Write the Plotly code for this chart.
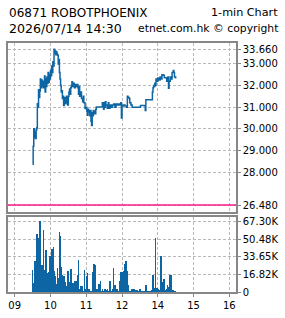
import plotly.graph_objects as go

W, H = 285, 318

title_code = "06871 ROBOTPHOENIX"
title_kind = "1-min Chart"
title_time = "2026/07/14 14:30"
title_src = "etnet.com.hk © copyright"

prev_close = 26.48

price_times = [
    "09:30", "09:31", "09:32", "09:33", "09:34", "09:35", "09:36", "09:37", "09:38", "09:39",
    "09:40", "09:41", "09:42", "09:43", "09:44", "09:45", "09:46", "09:47", "09:48", "09:49",
    "09:50", "09:51", "09:52", "09:53", "09:54", "09:55", "09:56", "09:57", "09:58", "09:59",
    "10:00", "10:01", "10:02", "10:03", "10:04", "10:05", "10:06", "10:07", "10:08", "10:09",
    "10:10", "10:11", "10:12", "10:13", "10:14", "10:15", "10:16", "10:17", "10:18", "10:19",
    "10:20", "10:21", "10:22", "10:23", "10:24", "10:25", "10:26", "10:27", "10:28", "10:29",
    "10:30", "10:31", "10:32", "10:33", "10:34", "10:35", "10:36", "10:37", "10:38", "10:40",
    "10:42", "10:44", "10:45", "10:46", "10:47", "10:48", "10:49", "10:50", "10:52", "10:54",
    "10:55", "10:56", "10:58", "11:00", "11:01", "11:02", "11:03", "11:04", "11:05", "11:06",
    "11:07", "11:08", "11:09", "11:10", "11:11", "11:12", "11:13", "11:14", "11:15", "11:16",
    "11:17", "11:26", "11:27", "11:28", "11:29", "11:30", "11:31", "11:32", "11:33", "11:35",
    "11:37", "11:38", "11:40", "11:42", "11:44", "11:46", "11:48", "11:50", "11:52", "11:54",
    "11:56", "11:58", "11:59", "12:00",
    "13:02", "13:05", "13:08", "13:09", "13:10", "13:12", "13:13", "13:15", "13:17", "13:30",
    "13:31", "13:38", "13:39", "13:40", "13:50", "13:51", "13:52", "13:53", "13:54", "13:55",
    "13:56", "13:57", "13:58", "14:00", "14:02", "14:04", "14:06", "14:07", "14:09", "14:11",
    "14:13", "14:15", "14:17", "14:18", "14:19", "14:21", "14:23", "14:24", "14:26", "14:27",
    "14:28", "14:30",
]
price_values = [
    28.36, 29.20, 30.00, 29.60, 29.85, 29.55, 29.95, 30.05, 31.16, 31.00,
    31.80, 31.45, 31.75, 32.30, 31.90, 32.25, 31.95, 32.20, 31.90, 32.10,
    32.44, 31.70, 32.30, 31.95, 32.40, 32.10, 32.60, 32.15, 32.50, 32.30,
    32.70, 32.45, 32.90, 32.60, 33.10, 32.90, 33.68, 33.50, 33.60, 33.42,
    33.55, 33.45, 33.40, 33.00, 33.20, 32.60, 32.30, 32.00, 31.70, 31.76,
    31.40, 31.50, 31.08, 31.30, 31.45, 31.16, 31.40, 31.50, 31.20, 31.10,
    31.50, 31.70, 31.84, 31.60, 31.90, 32.00, 32.17, 31.95, 32.10, 31.90,
    32.05, 31.95, 32.05, 31.90, 31.60, 31.95, 31.50, 31.70, 31.40, 31.25,
    31.50, 31.20, 30.94, 31.00, 30.80, 30.63, 30.90, 30.75, 30.85, 30.60,
    30.85, 30.35, 30.15, 30.75, 30.60, 30.85, 30.70, 30.80, 30.70, 30.90,
    31.01, 31.01, 31.20, 31.20, 30.90, 31.20, 31.00, 31.25, 31.10, 30.95,
    31.20, 30.95, 31.10, 31.00, 31.10, 31.15, 31.00, 31.15, 31.10, 31.15,
    31.10, 31.20, 30.50, 31.05,
    31.10, 31.05, 31.00, 31.50, 31.45, 31.40, 31.20, 31.10, 31.00, 31.00,
    31.08, 31.08, 30.85, 31.34, 31.34, 31.70, 31.90, 32.00, 31.95, 32.10,
    32.00, 32.30, 32.20, 32.35, 32.25, 32.40, 32.30, 32.50, 32.48, 32.36,
    32.36, 32.20, 32.40, 31.87, 32.20, 32.40, 32.30, 32.60, 32.70, 32.60,
    32.40, 32.32,
]

# 1-minute volumes (thousand shares)
vol_am_start = "09:30"
vol_am = [
    21, 9, 9, 12, 30, 26, 20, 55, 27, 24,
    52, 22, 68, 24, 23, 18, 26, 22, 59, 15,
    12, 21, 18, 40, 16, 16, 18, 14, 19, 34,
    20, 19, 22, 41, 35, 43, 20, 18, 15, 8,
    5.6, 4, 23, 10, 13, 57, 54, 12, 24, 10,
    16.5, 12, 4, 15, 3, 10, 2, 5.6, 2, 20.5,
    3, 10, 2, 1.5, 22, 2, 7, 1, 9, 1.5,
    2, 11, 1, 11, 1, 2, 16.5, 31, 2, 3,
    1, 5.6, 1, 5.6, 5.6, 1, 1, 21, 2.5, 1,
    1, 15, 18, 1, 1, 2.5, 1, 1.2, 1, 1,
    1, 19.6, 1, 26.5, 1, 26, 2.5, 1, 2.5, 1,
    1, 8, 1, 1, 11, 1, 1, 2.5, 0.5, 0.5,
    1, 3, 0.5, 1, 1.5, 0.5, 2.5, 0.5, 0.5, 1,
    11, 1, 0.5, 1, 2.5, 1, 23, 1, 7, 1,
    0.5, 1, 3, 1, 0.5, 1, 0.5, 10.6, 19.6, 1,
]
vol_pm_start = "13:00"
vol_pm = [
    19.6, 10, 11, 20, 27, 20, 18, 30, 20, 20,
    7, 7, 0.5, 0.5, 0.5, 1, 1, 2.5, 1, 0.5,
    2.5, 2.5, 0.5, 2, 0.5, 2, 0.5, 0.5, 0.5, 0.5,
    2.5, 1, 1, 0.5, 0.5, 0.5, 0.5, 0.5, 0.5, 1,
    7, 1, 0.5, 1, 0.5, 0.5, 0.5, 0.5, 0.5, 1,
    2, 12, 16.5, 3, 3, 4, 52, 4, 3, 4,
    2.5, 1.5, 2, 2, 2, 34, 2, 2, 2, 10,
    12, 3, 2, 2, 1, 3, 7, 1, 5, 1,
    16.5, 16.5, 16.5, 3, 0.5, 0.5, 2, 0.5, 0.5, 0.5,
]

x_tick_vals = [0, 1, 2, 3, 4, 5, 6]
x_tick_text = ["09", "10", "11", "12", "14", "15", "16"]
price_ticks = [26.48, 28, 29, 30, 31, 32, 33, 33.66]
vol_ticks = [0, 16.82, 33.65, 50.48, 67.30]
vol_tick_text = ["0", "16.82K", "33.65K", "50.48K", "67.30K"]


def t_axis(hhmm):
    h, m = map(int, hhmm.split(":"))
    v = h + m / 60
    return v - 9 if v <= 12 else v - 10


px = [t_axis(t) for t in price_times]
vx = [t_axis(vol_am_start) + i / 60 for i in range(len(vol_am))] + \
     [t_axis(vol_pm_start) + j / 60 for j in range(len(vol_pm))]
vy = vol_am + vol_pm

BLUE = "#0e65a3"
FRAME = "#878787"
GRID = "#b9b9b9"
FONT = "DejaVu Sans"

fig = go.Figure()
fig.add_trace(go.Scatter(x=px, y=price_values, mode="lines", line=dict(color=BLUE, width=1.5, shape="hv"),
                         xaxis="x", yaxis="y", hoverinfo="skip"))
fig.add_trace(go.Bar(x=vx, y=vy, width=1 / 60, marker=dict(color=BLUE, line=dict(width=0)),
                     xaxis="x2", yaxis="y2", hoverinfo="skip"))

xr = [-0.187, 6.187]
axis_common = dict(showline=True, mirror=True, linecolor=FRAME, linewidth=1.5,
                   showgrid=True, gridcolor=GRID, gridwidth=1, griddash="3px,2px", zeroline=False)

fig.update_layout(
    width=W, height=H, margin=dict(l=0, r=0, t=0, b=0),
    paper_bgcolor="white", plot_bgcolor="white", showlegend=False, bargap=0,
    font=dict(family=FONT, size=10, color="black"),
    xaxis=dict(domain=[8 / W, 236 / W], range=xr, anchor="y", tickvals=x_tick_vals,
               showticklabels=False, ticks="", **axis_common),
    yaxis=dict(domain=[1 - 215.7 / H, 1 - 42.7 / H], range=[26.16, 33.976], side="right", anchor="x",
               tickvals=price_ticks, ticktext=[f"{v:.3f}" for v in price_ticks],
               ticks="outside", ticklen=3, tickcolor=FRAME, **axis_common),
    xaxis2=dict(domain=[8 / W, 236 / W], range=xr, anchor="y2", matches="x", tickvals=x_tick_vals,
                ticktext=x_tick_text, ticks="outside", ticklen=3, tickcolor=FRAME, **axis_common),
    yaxis2=dict(domain=[1 - 297.7 / H, 1 - 221 / H], range=[0, 71.7], side="right", anchor="x2",
                tickvals=vol_ticks, ticktext=vol_tick_text,
                ticks="outside", ticklen=3, tickcolor=FRAME, **axis_common),
)

fig.add_shape(type="line", xref="x domain", yref="y", x0=0, x1=1, y0=prev_close, y1=prev_close,
              line=dict(color="#ff1a8c", width=1.5))


def ann(text, xpx, ypx, anchor, size):
    fig.add_annotation(text=text, xref="paper", yref="paper", x=xpx / W, y=1 - ypx / H,
                       xanchor=anchor, yanchor="middle", showarrow=False, borderpad=0,
                       font=dict(family=FONT, size=size, color="black"))


ann(title_code, 8, 12, "left", 12)
ann(title_kind, 279, 12, "right", 11.2)
ann(title_time, 8, 28.5, "left", 12.6)
ann(title_src, 279, 28.5, "right", 10.8)

fig.write_html("out.html")
